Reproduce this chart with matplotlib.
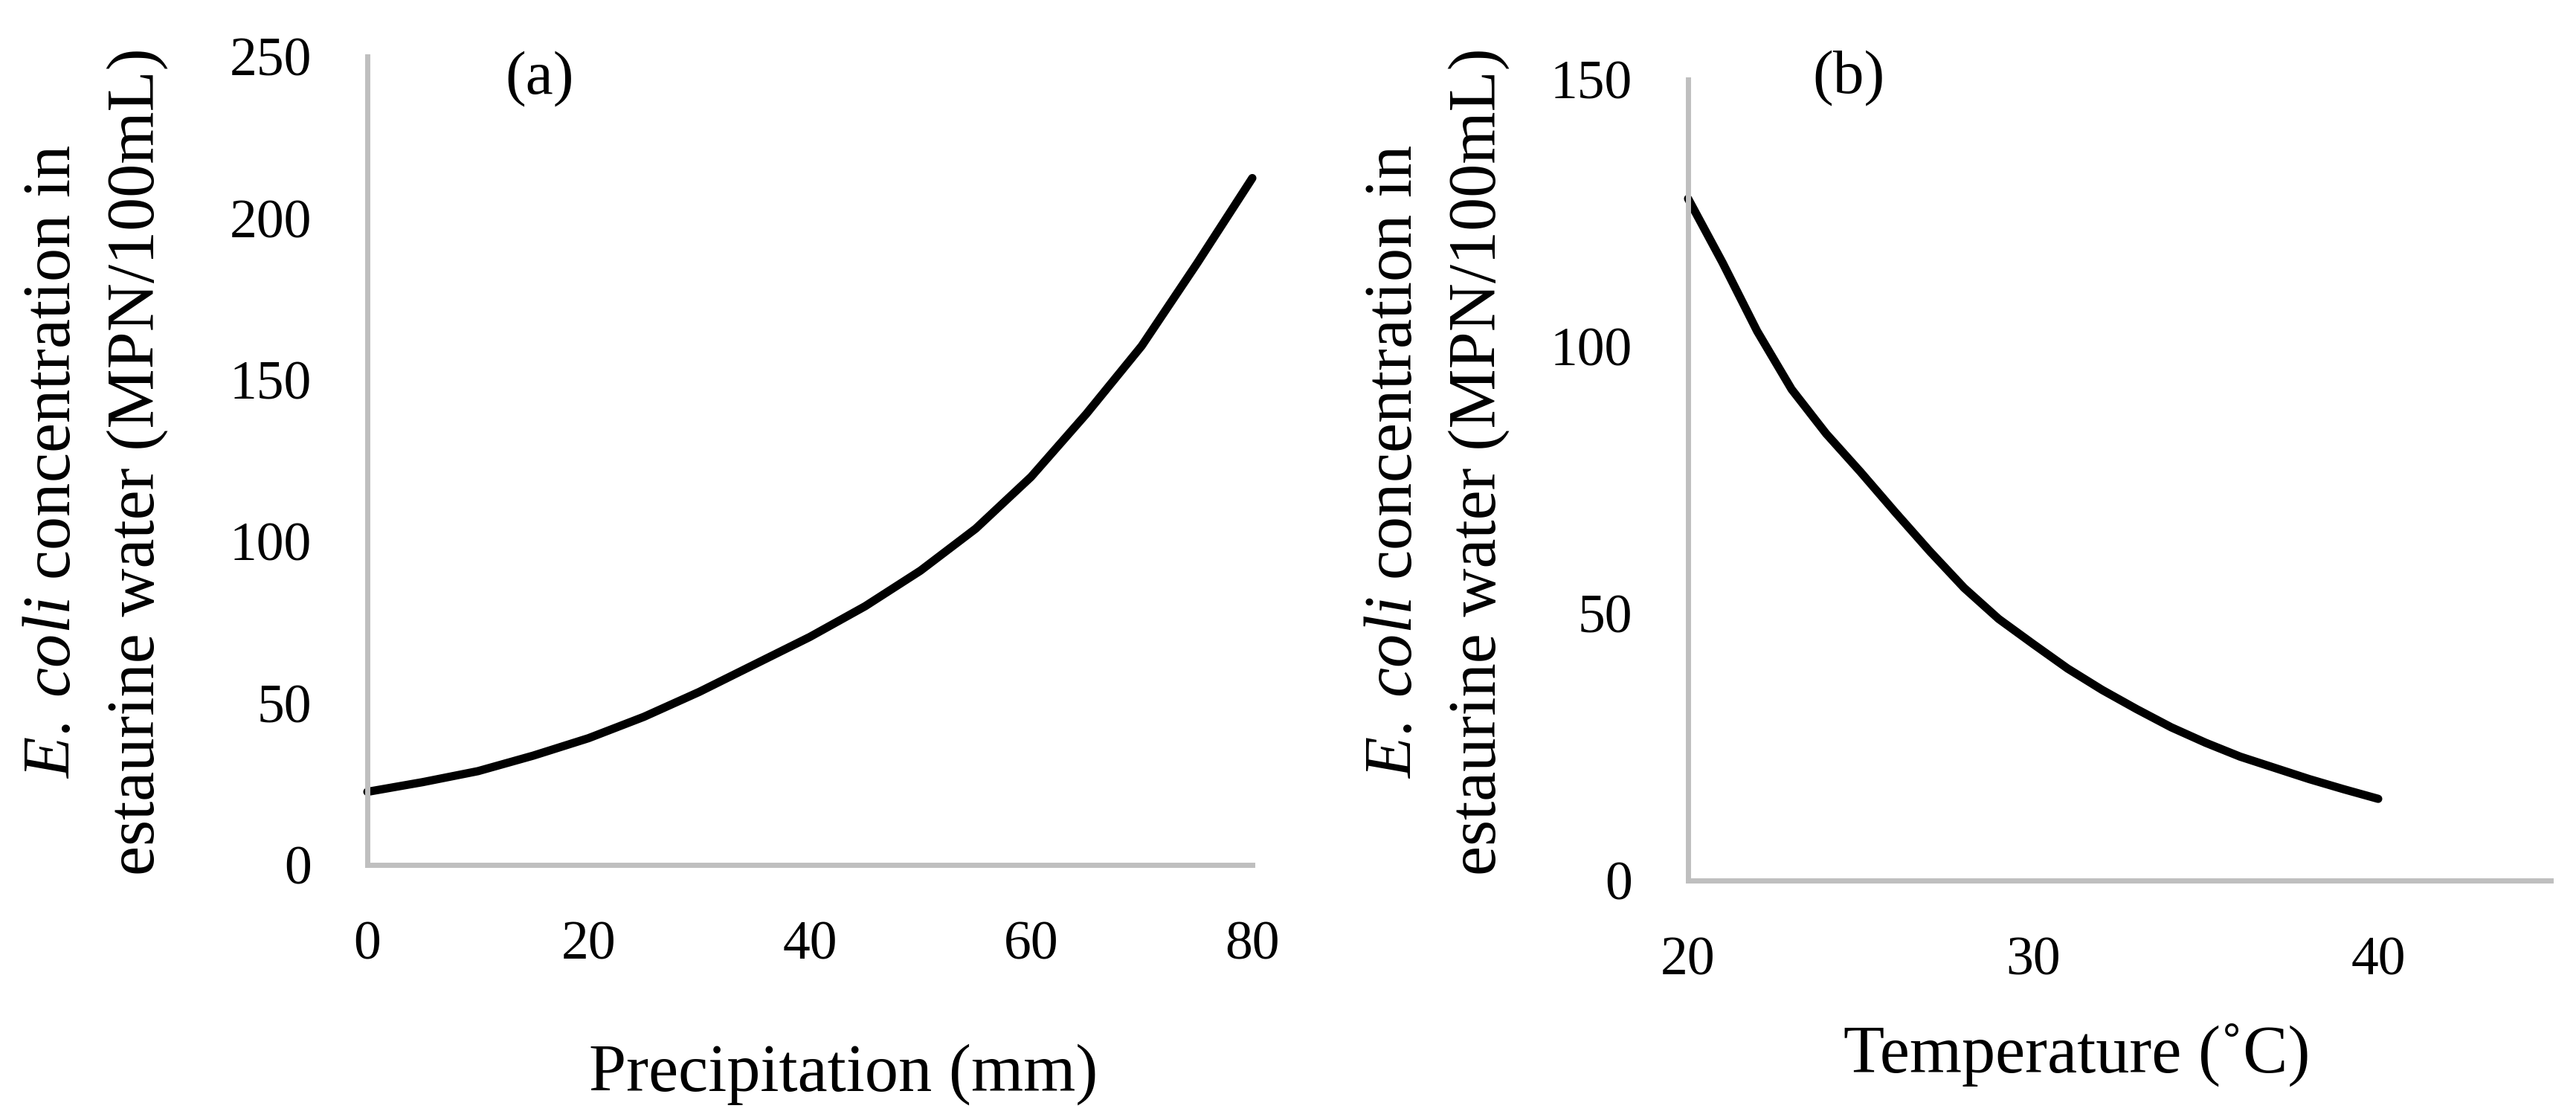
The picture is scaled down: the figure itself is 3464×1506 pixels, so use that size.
import matplotlib
matplotlib.use('Agg')
import matplotlib.pyplot as plt

plt.rcParams['font.family'] = ['Liberation Serif', 'DejaVu Serif']
plt.rcParams['mathtext.fontset'] = 'custom'
plt.rcParams['mathtext.rm'] = 'Liberation Serif'
plt.rcParams['mathtext.it'] = 'Liberation Serif:italic'

# (a) precipitation (mm) vs E. coli (MPN/100mL)
precip = [0, 5, 10, 15, 20, 25, 30, 35, 40, 45, 50, 55, 60, 65, 70, 75, 80]
ecoli_precip = [22.6, 25.6, 29.0, 33.8, 39.2, 45.8, 53.5, 62.0, 70.5, 80.0, 91.0, 104.0, 120.0, 139.5, 160.5, 186.0, 212.4]

# (b) temperature (C) vs E. coli (MPN/100mL)
temp = [20, 21, 22, 23, 24, 25, 26, 27, 28, 29, 30, 31, 32, 33, 34, 35, 36, 37, 38, 39, 40]
ecoli_temp = [127.7, 115.7, 102.9, 92.0, 83.7, 76.5, 69.0, 61.7, 54.8, 49.0, 44.3,
              39.7, 35.7, 32.1, 28.7, 25.8, 23.2, 21.1, 19.0, 17.1, 15.3]

xticks_a = [0, 20, 40, 60, 80]
yticks_a = [0, 50, 100, 150, 200, 250]
xticks_b = [20, 30, 40]
yticks_b = [0, 50, 100, 150]

W, H = 3464, 1506
DPI = 200
fig = plt.figure(figsize=(W / DPI, H / DPI), dpi=DPI)

gray = '#BFBFBF'
tick_fs = 26.5
label_fs = 32.5


def px(x, y):
  return x / W, 1 - y / H


def style_axes(ax):
  for s in ['top', 'right']:
    ax.spines[s].set_visible(False)
  for s in ['left', 'bottom']:
    ax.spines[s].set_color(gray)
    ax.spines[s].set_linewidth(2.5)
  ax.tick_params(length=0, labelsize=tick_fs, pad=27)


# panel (a)
ax1 = fig.add_axes([494 / W, 1 - 1163 / H, (1684 - 494) / W, (1163 - 76) / H])
ax1.plot(precip, ecoli_precip, color='black', lw=4, clip_on=False,
         solid_capstyle='round', solid_joinstyle='round')
ax1.set_xlim(0, 80)
ax1.set_ylim(0, 250)
ax1.set_xticks(xticks_a)
ax1.set_yticks(yticks_a)
style_axes(ax1)

# panel (b)
ax2 = fig.add_axes([2270 / W, 1 - 1184 / H, (3430 - 2270) / W, (1184 - 107) / H])
ax2.plot(temp, ecoli_temp, color='black', lw=4, clip_on=False,
         solid_capstyle='round', solid_joinstyle='round')
ax2.set_xlim(20, 45)
ax2.set_ylim(0, 150)
ax2.set_xticks(xticks_b)
ax2.set_yticks(yticks_b)
style_axes(ax2)

# axis titles
fig.text(*px(1134, 1467), 'Precipitation (mm)', fontsize=label_fs, ha='center', va='baseline')
fig.text(*px(2793, 1442), 'Temperature (\u02daC)', fontsize=label_fs, ha='center', va='baseline')

line1 = r'$\mathit{E.\;coli}$ concentration in'
line2 = 'estaurine water (MPN/100mL)'
for bx1, bx2 in [(94, 207), (1898, 2011)]:
  fig.text(*px(bx1, 621), line1, fontsize=label_fs, rotation=90,
           rotation_mode='anchor', ha='center', va='baseline')
  fig.text(*px(bx2, 621), line2, fontsize=label_fs, rotation=90,
           rotation_mode='anchor', ha='center', va='baseline')

# panel letters
fig.text(*px(726, 126), '(a)', fontsize=30, ha='center', va='baseline')
fig.text(*px(2486, 125), '(b)', fontsize=30, ha='center', va='baseline')

fig.savefig('out.png', dpi=DPI, facecolor='white')
